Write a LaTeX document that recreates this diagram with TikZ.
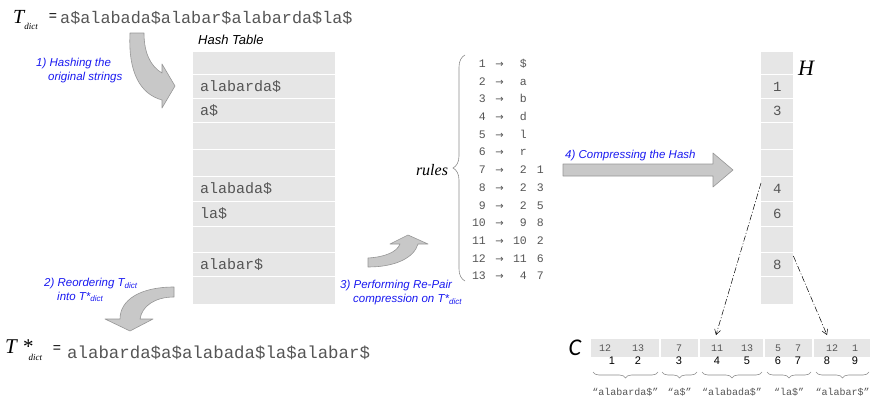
\documentclass[tikz,border=0pt]{standalone}
\usepackage{fontspec}
\setmainfont{Liberation Serif}
\setsansfont{Liberation Sans}
\setmonofont{Liberation Mono}
\newfontfamily\calfont{Carlito}
\newfontfamily\arrowfont{DejaVu Sans}
\usepackage{xcolor}
\usetikzlibrary{arrows.meta, decorations.pathreplacing}

\definecolor{cellgray}{RGB}{230,230,230}
\definecolor{arrowgray}{RGB}{200,200,200}
\definecolor{arrowline}{RGB}{150,150,150}
\definecolor{stepblue}{RGB}{25,25,240}
\definecolor{codegray}{RGB}{85,85,85}
\definecolor{bracegray}{RGB}{140,140,140}

\newcommand{\fsz}[1]{\fontsize{#1}{#1}\selectfont}
\newcommand{\smallsub}[1]{\raisebox{-1.5pt}{\fsz{8}#1}}

\tikzset{
  cell/.style={fill=cellgray, inner sep=0pt, anchor=north west},
  bigarrow/.style={fill=arrowgray, draw=arrowline, line width=0.6pt, line join=round},
  steplabel/.style={anchor=west, inner sep=0pt, text=stepblue, font=\sffamily\itshape\fsz{11.5}},
  codetext/.style={inner sep=0pt, text=codegray, font=\ttfamily\fsz{#1}},
  codetext/.default=10,
  ptr/.style={-{Straight Barb[length=5pt,width=6pt]}, line width=0.5pt,
              dash pattern=on 6pt off 2pt on 1pt off 2pt},
  rbrace/.style={decorate, draw=bracegray, line width=0.6pt, decoration={brace, amplitude=12pt}},
  cbrace/.style={decorate, draw=bracegray, line width=0.6pt, decoration={brace, mirror, amplitude=6pt}}
}

\begin{document}
\begin{tikzpicture}[x=1pt, y=-1pt]
\useasboundingbox (0,0) rectangle (871,402);

% T_dict
\node[anchor=base west, inner sep=0pt, font=\itshape\fsz{20}] (tT) at (13,23)
  {T\raisebox{-6pt}{\fsz{9}dict}};
\node[inner sep=0pt, font=\sffamily\fsz{14}] (teq) at (53,17) {=};
\node[codetext=16.8, anchor=base west] (tstr) at (60,23) {a\$alabada\$alabar\$alabarda\$la\$};

% hash table and H
\node[anchor=west, inner sep=0pt, font=\sffamily\itshape\fsz{13}] (httitle) at (198,40) {Hash Table};
\foreach \i/\top/\bot/\word/\code in {1/52/75//, 2/75/99/alabarda\$/1, 3/99/123/a\$/3,
    4/123/150//, 5/150/177//, 6/177/202/alabada\$/4, 7/202/227/la\$/6,
    8/227/253//, 9/253/277/alabar\$/8, 10/277/305//}
{
  \node[cell, codetext=15, minimum width=142pt, minimum height={\bot-\top-1.5},
        text width=128pt, inner xsep=7pt, align=left] (t\i) at (193,\top) {\word};
  \node[cell, codetext=14, minimum width=32pt, minimum height={\bot-\top-1.5}] (H\i) at (761,\top) {\code};
}
\node[font=\itshape\fsz{22}, inner sep=0pt] (Hlabel) at (806,68) {H};

% step 1
\draw[bigarrow] (130,33) .. controls (128,72) and (140,94) .. (162,100) -- (162,108) -- (175,86)
  -- (162,64) -- (162,73) .. controls (150,66) and (144,52) .. (144,33) -- cycle;
\node[steplabel] (lab1) at (36,64) {1) Hashing the};
\node[steplabel] (lab1b) at (48,78) {original strings};

% step 2
\draw[bigarrow] (174,287) .. controls (140,287) and (120,300) .. (120,319) -- (105,319) -- (130,331)
  -- (153,319) -- (140,319) .. controls (142,306) and (155,297) .. (174,297) -- cycle;
\node[steplabel] (lab2) at (44,284) {2) Reordering T\smallsub{dict}};
\node[steplabel] (lab2b) at (57,297) {into T*\smallsub{dict}};

% T*_dict
\node[anchor=base west, inner sep=0pt, font=\itshape\fsz{21}] (sT) at (5,353)
  {T *\hspace{-4pt}\raisebox{-7pt}{\fsz{9}dict}};
\node[inner sep=0pt, font=\sffamily\fsz{14}] (seq) at (57,349) {=};
\node[codetext=17.4, anchor=base west] (sstr) at (67,358) {alabarda\$a\$alabada\$la\$alabar\$};

% step 3
\draw[bigarrow] (368,258) .. controls (385,257) and (397,252) .. (400,244) -- (390,244) -- (408,235)
  -- (428,244) -- (418,244) .. controls (414,258) and (395,267) .. (368,267) -- cycle;
\node[steplabel] (lab3) at (340,286) {3) Performing Re-Pair};
\node[steplabel] (lab3b) at (353,300) {compression on T*\smallsub{dict}};

% rules
\node[font=\itshape\fsz{16}, inner sep=0pt] (rules) at (432,170) {rules};
\draw[rbrace] (465,281) -- (465,55);
\foreach \i/\b/\c in {1/\$/, 2/a/, 3/b/, 4/d/, 5/l/, 6/r/, 7/2/1, 8/2/3, 9/2/5,
    10/9/8, 11/10/2, 12/11/6, 13/4/7}
{
  \node[codetext=11.5, anchor=base east] (r\i) at (486,{67.3+17.72*(\i-1)}) {\i};
  \node[inner sep=0pt, anchor=base, text=codegray, font=\arrowfont\fsz{10}] (ra\i) at (499.5,{67.3+17.72*(\i-1)}) {→};
  \node[codetext=11.5, anchor=base east] (rb\i) at (527,{67.3+17.72*(\i-1)}) {\b};
  \node[codetext=11.5, anchor=base east] (rc\i) at (544,{67.3+17.72*(\i-1)}) {\c};
}

% step 4
\draw[bigarrow] (563,164) -- (713,164) -- (713,153) -- (733,170) -- (713,187) -- (713,176) -- (563,176) -- cycle;
\node[steplabel] (lab4) at (565,156) {4) Compressing the Hash};

% C array
\node[font=\calfont\itshape\fsz{24}, inner sep=0pt] (Clabel) at (575,348) {C};
\foreach \i/\l/\r in {1/591/659, 2/661/698, 3/700/763, 4/765/812, 5/814/870}
  \node[cell, minimum width={\r-\l}, minimum height=18pt] (c\i) at (\l,339) {};
\foreach \x/\v/\n/\nx in {605/12/1/612, 638/13/2/638, 679/7/3/679, 717/11/4/717, 747/13/5/747,
    778/5/6/778, 798/7/7/798, 832/12/8/827, 855/1/9/855}
{
  \node[codetext=10] (v\n) at (\x,348) {\v};
  \node[inner sep=0pt, font=\sffamily\fsz{11}] (n\n) at (\nx,361) {\n};
}
\foreach \i/\l/\r/\s in {1/593/658/alabarda\$, 2/662/697/a\$, 3/702/762/alabada\$,
    4/767/811/la\$, 5/816/869/alabar\$}
{
  \draw[cbrace] (\l,372) -- (\r,372);
  \node[codetext=10] (s\i) at ({(\l+\r)/2},392) {“\s”};
}

% pointers from H into C
\coordinate (c3top) at (716,335);
\coordinate (c5top) at (827,335);
\draw[ptr] ([yshift=-6pt]H6.north west) -- (c3top);
\draw[ptr] ([yshift=-3pt]H9.north east) -- (c5top);
\end{tikzpicture}
\end{document}
